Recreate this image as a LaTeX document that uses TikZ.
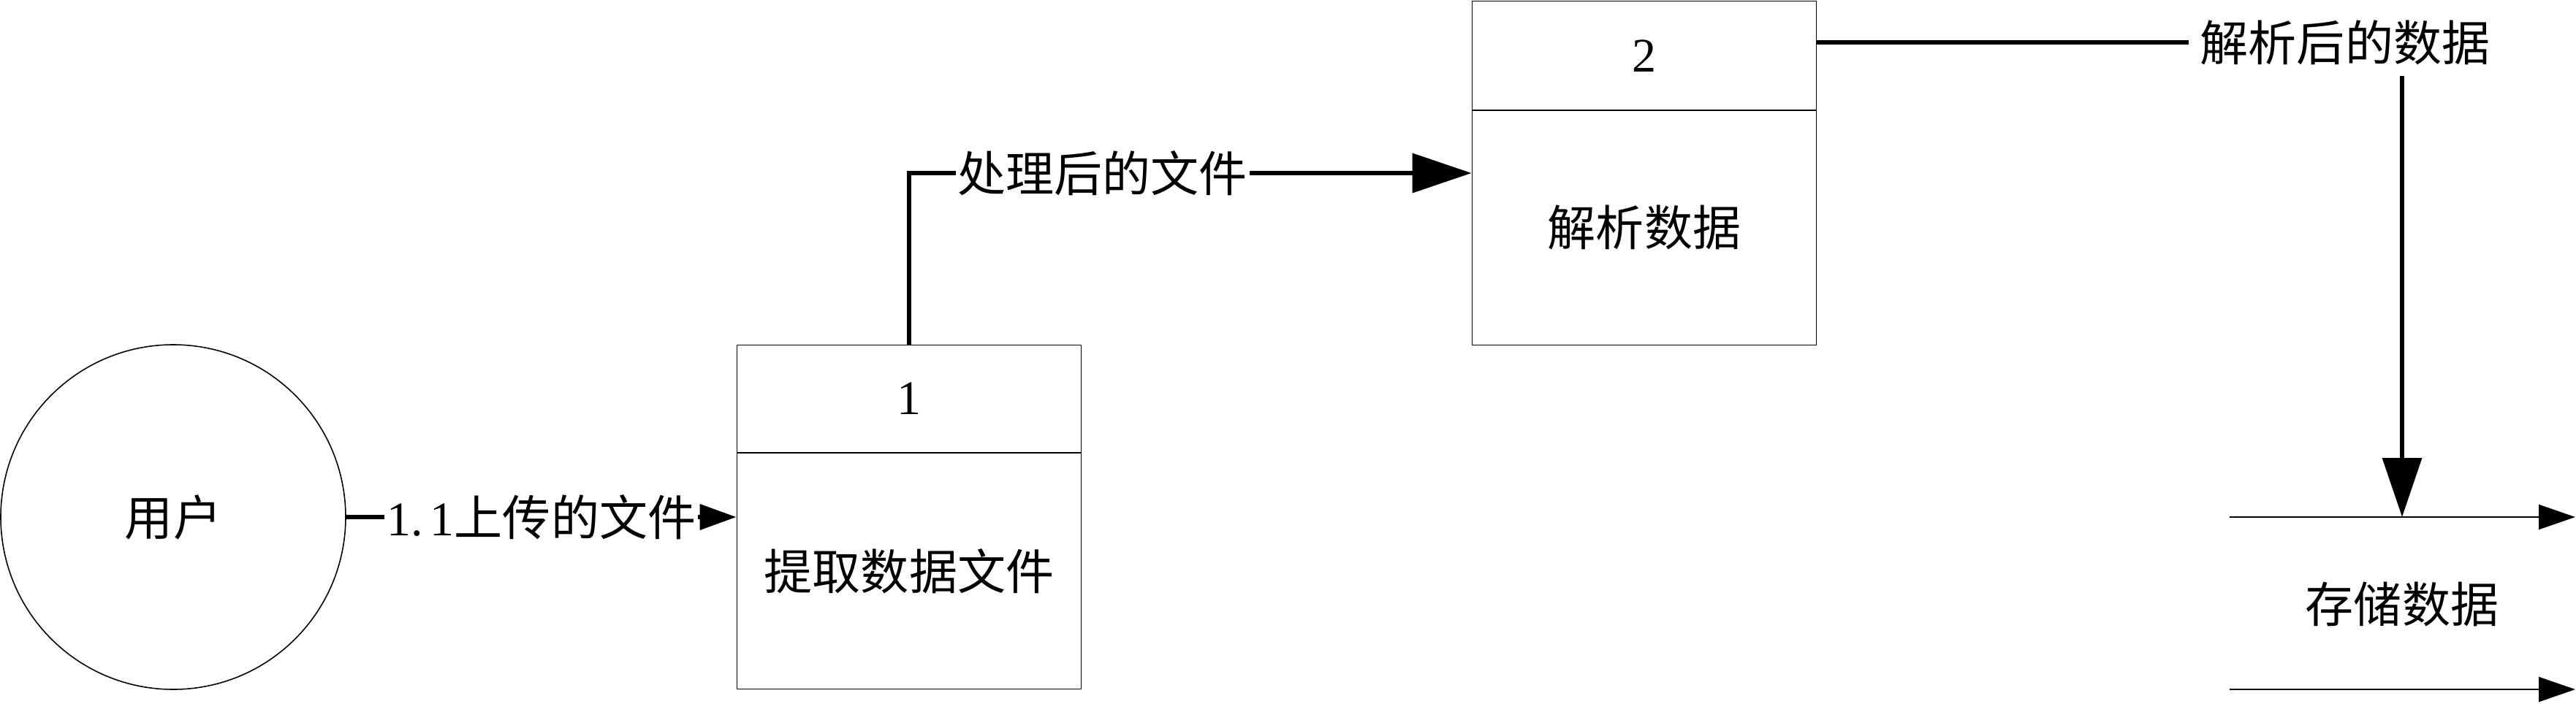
\documentclass[tikz,border=0pt]{standalone}
\usepackage{fontspec}
\setmainfont{Liberation Serif}
\newfontfamily\cjk{Noto Sans CJK SC}
\usetikzlibrary{arrows.meta}
\tikzset{
  every node/.style={font=\fontsize{18.8pt}{22pt}\selectfont},
  thinline/.style={line width=0.45pt},
  proc/.style={draw, thinline, minimum width=4.71cm, minimum height=4.71cm, inner sep=0pt},
  ent/.style={draw, thinline, circle, minimum size=4.72cm, inner sep=0pt},
  lbl/.style={fill=white, inner sep=0.03cm},
  txt/.style={inner sep=0pt},
  bigflow/.style={line width=1.9pt, -{Triangle[length=0.81cm, width=0.53cm]}},
  smallflow/.style={line width=1.9pt, -{Triangle[length=0.50cm, width=0.34cm]}},
  plainflow/.style={line width=1.9pt},
  storeline/.style={line width=0.6pt, -{Triangle[length=0.50cm, width=0.34cm]}}
}
\begin{document}
\begin{tikzpicture}
\useasboundingbox (0,0) rectangle (35.25,9.63);
% external entity
\node[ent] (U) at (2.37,2.55) {\cjk 用户};
% process 1
\node[proc] (p1) at (12.44,2.55) {};
\draw[thinline] (p1.west |- 0,3.43) -- (p1.east |- 0,3.43);
\node[txt] (p1num) at (12.44,4.17) {1};
\node[txt] (p1txt) at (12.44,1.81) {\cjk 提取数据文件};
% process 2
\node[proc] (p2) at (22.50,7.26) {};
\draw[thinline] (p2.west |- 0,8.12) -- (p2.east |- 0,8.12);
\node[txt] (p2num) at (22.50,8.865) {2};
\node[txt] (p2txt) at (22.50,6.515) {\cjk 解析数据};
% data store
\coordinate (s1a) at (30.51,2.55);
\coordinate (s1b) at (35.24,2.55);
\coordinate (s2a) at (30.51,0.19);
\coordinate (s2b) at (35.24,0.19);
\draw[storeline] (s1a) -- (s1b);
\draw[storeline] (s2a) -- (s2b);
\node[txt] (stxt) at (32.87,1.36) {\cjk 存储数据};
% flow 1
\draw[smallflow] (U.east) -- node[lbl] {1.\kern0.1cm 1{\cjk 上传的文件}} (p1.west);
% flow 2
\draw[bigflow] (p1.north) |- node[lbl, pos=0.672] {\cjk 处理后的文件} (p2.west);
% flow 3
\node[lbl, inner sep=0.15cm, fill=none] (l3) at (32.09,9.05) {\cjk 解析后的数据};
\coordinate (s1top) at (32.87,2.55);
\draw[plainflow] (p2.east |- l3.west) -- (l3.west);
\draw[bigflow] (s1top |- l3.south) -- (s1top);
\end{tikzpicture}
\end{document}
